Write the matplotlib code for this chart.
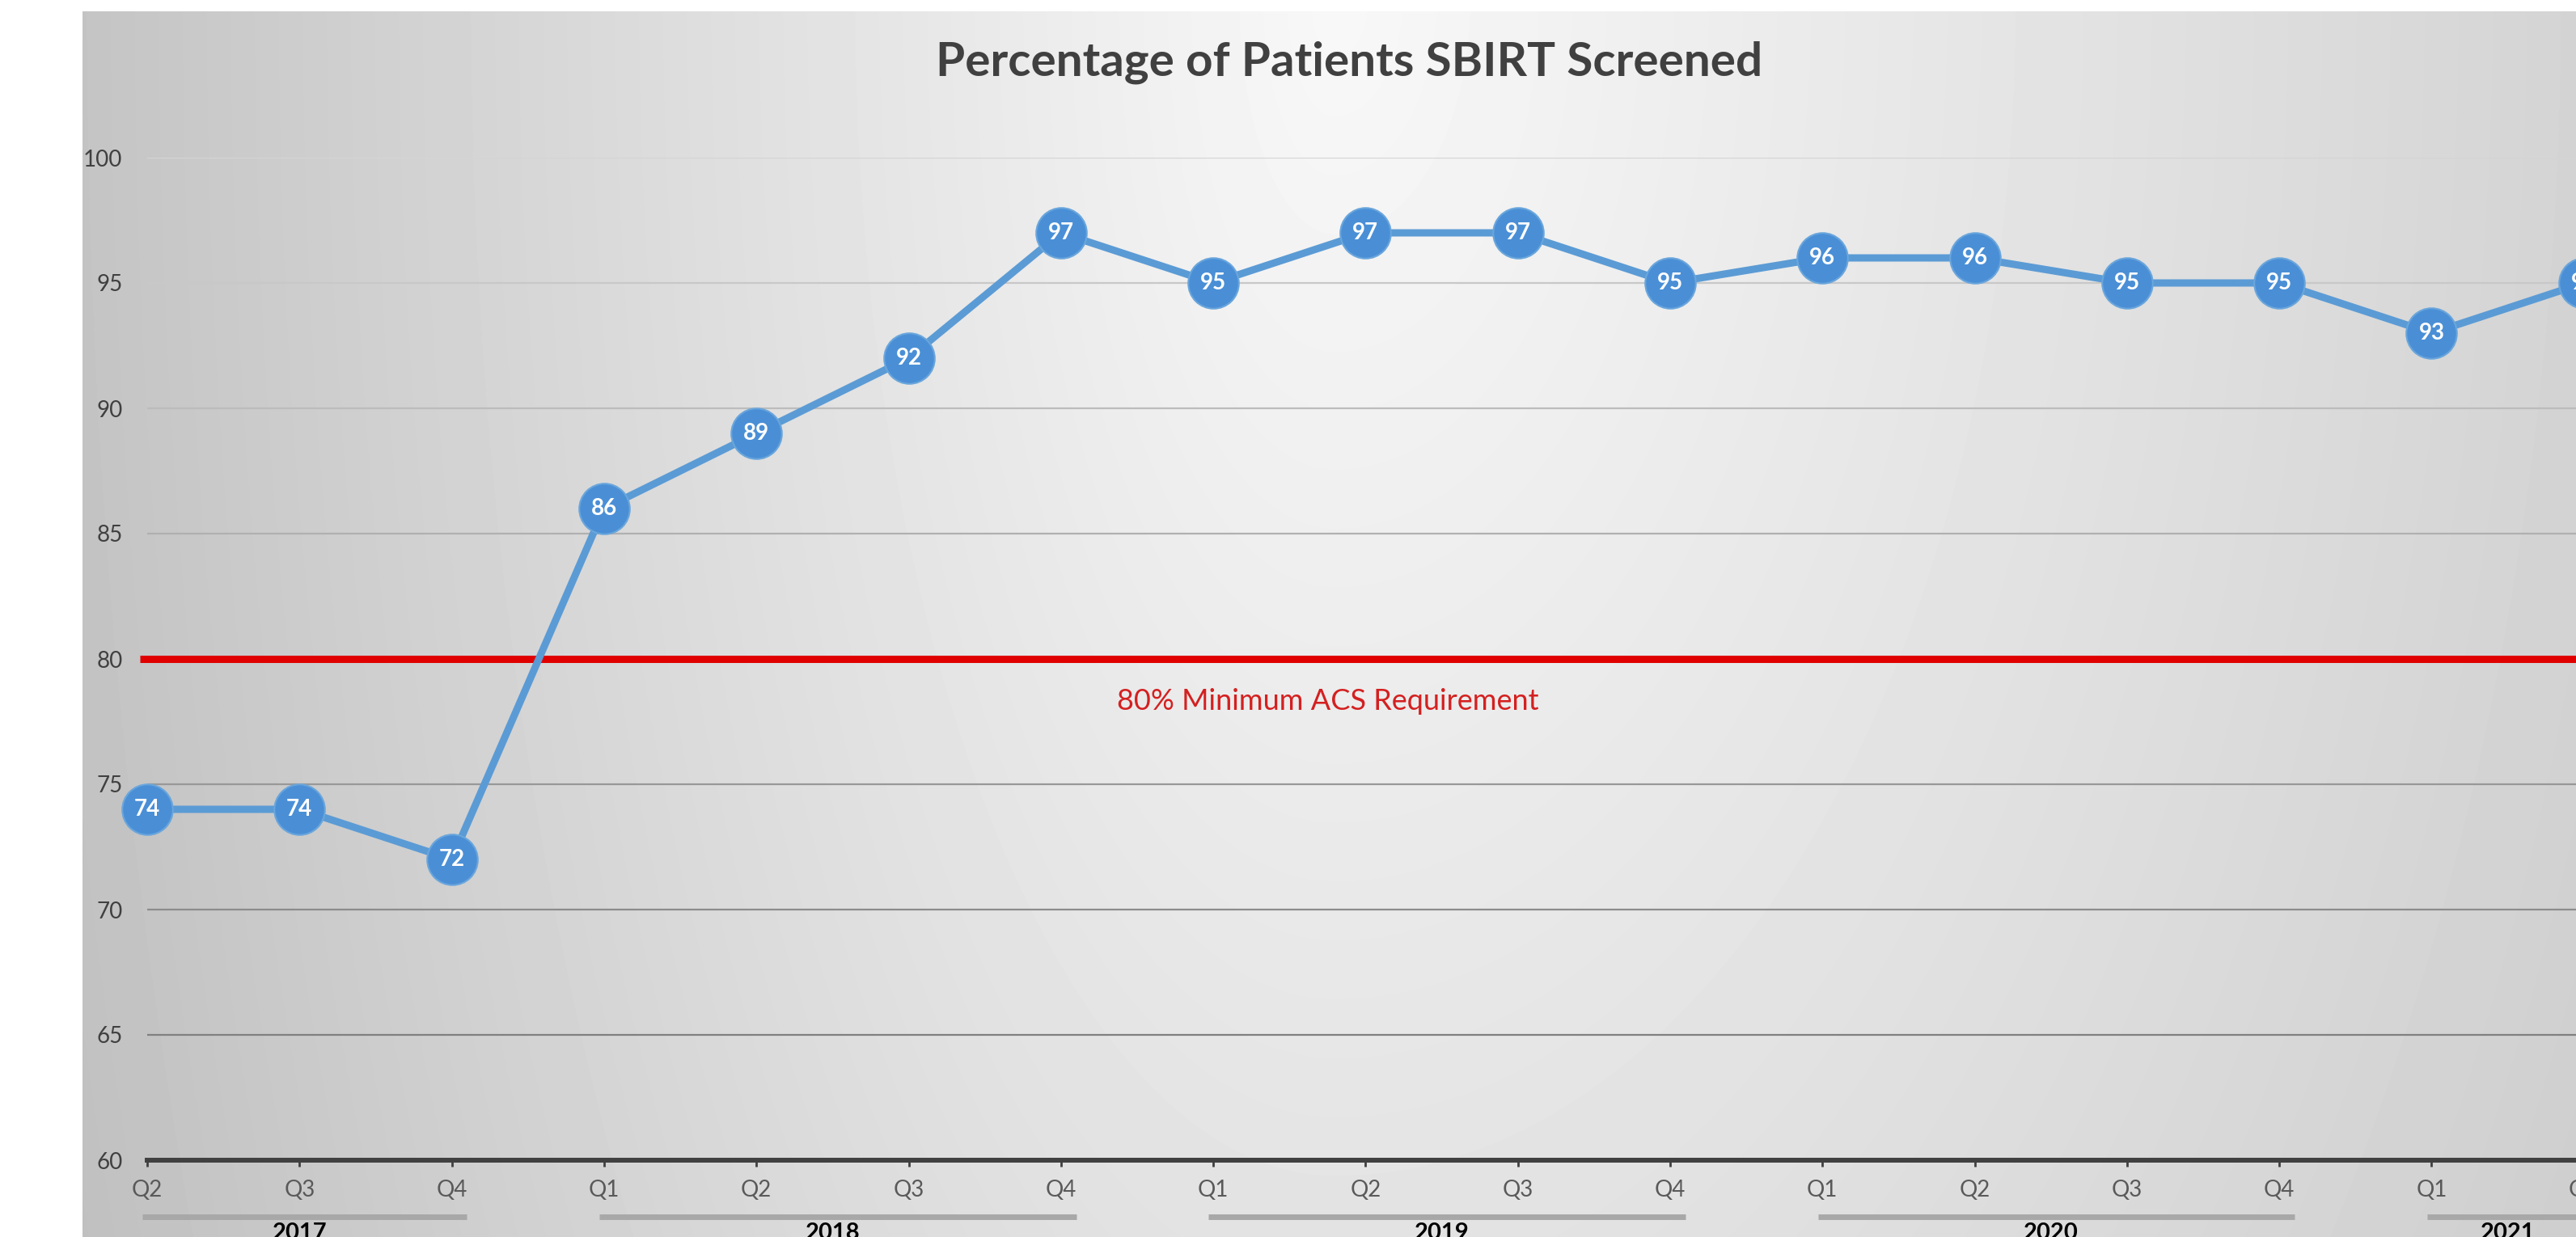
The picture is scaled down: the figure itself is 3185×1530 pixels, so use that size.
import numpy as np
import matplotlib
matplotlib.use("Agg")
import matplotlib.pyplot as plt

plt.rcParams['font.family'] = ['Lato', 'DejaVu Sans']

# data
quarters = ["Q2", "Q3", "Q4",
            "Q1", "Q2", "Q3", "Q4",
            "Q1", "Q2", "Q3", "Q4",
            "Q1", "Q2", "Q3", "Q4",
            "Q1", "Q2"]
years = ["2017", "2018", "2019", "2020", "2021"]
year_spans = [(0, 2), (3, 6), (7, 10), (11, 14), (15, 16)]
screened = [74, 74, 72, 86, 89, 92, 97, 95, 97, 97, 95, 96, 96, 95, 95, 93, 95]
requirement = 80
y_ticks = [60, 65, 70, 75, 80, 85, 90, 95, 100]

W, H = 3185, 1530
fig = plt.figure(figsize=(W / 100, H / 100), dpi=100)

# background: white margin plus a soft radial grey fill
bg = fig.add_axes([0, 0, 1, 1], zorder=0)
xx, yy = np.meshgrid(np.arange(W), np.arange(H))
rx = np.where(xx < 1650, 1550.0, 2200.0)
r = np.sqrt(((xx - 1650) / rx) ** 2 + (yy / 3800.0) ** 2)
shade = np.clip(248 - 52 * r, 188, 250)
shade[(xx < 102) | (yy < 14)] = 255
bg.imshow(shade, cmap="gray", vmin=0, vmax=255, interpolation="nearest",
          extent=(0, W, H, 0), aspect="auto")
bg.set_xlim(0, W)
bg.set_ylim(H, 0)
bg.axis("off")

# plot area: x=0 sits at px 182, one quarter = 188.3 px; y 60 at px 1435, 100 at px 195
left_px, step_px = 182, 188.3
x_max = 16.5
y_bot_px, y_top_px = 1435, 195
ax = fig.add_axes([left_px / W, 1 - y_bot_px / H,
                   x_max * step_px / W, (y_bot_px - y_top_px) / H], zorder=1)
ax.patch.set_alpha(0)
ax.set_xlim(0, x_max)
ax.set_ylim(60, 100)

def px_to_axes_y(py):
    return (y_bot_px - py) / (y_bot_px - y_top_px)

# grid lines, darker towards the bottom
for v in y_ticks[1:]:
    g = 0.50 + (v - 65) / 35 * 0.33
    ax.axhline(v, color=(g, g, g), lw=1.6, zorder=1)

for s in ["top", "right", "left"]:
    ax.spines[s].set_visible(False)
ax.spines["bottom"].set_color("#404040")
ax.spines["bottom"].set_linewidth(4.3)

x = np.arange(len(screened))
ax.set_xticks(x)
ax.set_xticklabels(quarters, fontsize=20, color="#595959")
ax.tick_params(axis="x", length=6, width=2, color="#404040", pad=11)
ax.set_yticks(y_ticks)
ax.set_yticklabels([str(v) for v in y_ticks], fontsize=20, color="#404040")
ax.tick_params(axis="y", length=0, pad=22)

# requirement line
ax.plot([-0.05, x_max], [requirement, requirement], color="#e00000", lw=6.5,
        solid_capstyle="butt", clip_on=False, zorder=2)
ax.text(7.75, 78.3, "80% Minimum ACS Requirement", color="#d42020",
        fontsize=26, ha="center", va="center", zorder=2)

# series
ax.plot(x, screened, color="#5b9bd5", lw=6.5, marker="o", markersize=45,
        markerfacecolor="#4a8fd6", markeredgecolor="#6aa6dc", markeredgewidth=1.5,
        clip_on=False, zorder=3)
for xi, v in zip(x, screened):
    ax.text(xi, v, str(v), color="white", fontsize=20, fontweight="bold",
            ha="center", va="center", zorder=4)

# year groups under the quarter labels
tr = ax.get_xaxis_transform()
for yr, (a, b) in zip(years, year_spans):
    ax.plot([a - 0.03, b + 0.1], [px_to_axes_y(1505)] * 2, transform=tr,
            color="#a8a8a8", lw=5, solid_capstyle="butt", clip_on=False)
    ax.text((a + b) / 2, px_to_axes_y(1512), yr, transform=tr, fontsize=21,
            fontweight="bold", color="black", ha="center", va="top")

fig.text(1668 / W, 1 - 94 / H, "Percentage of Patients SBIRT Screened",
         fontsize=42, fontweight="bold", color="#404040", ha="center",
         va="baseline")

fig.savefig("out.png", dpi=100)
